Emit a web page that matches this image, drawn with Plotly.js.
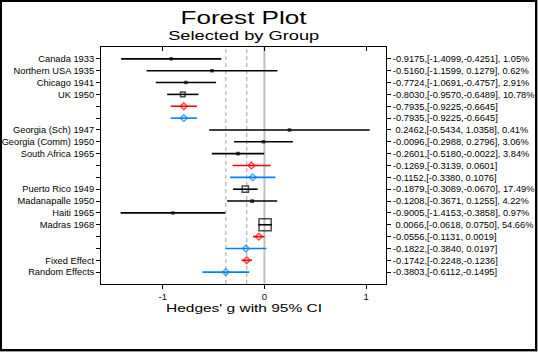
<!DOCTYPE html>
<html>
<head>
<meta charset="utf-8">
<script src="https://cdn.plot.ly/plotly-3.0.1.min.js"></script>
<style>
  html, body { margin: 0; padding: 0; background: #fff; }
  #wrap { position: relative; width: 538px; height: 352px; overflow: hidden; }
  #chart { position: absolute; left: 0; top: 0; width: 538px; height: 352px; }
  #frame { position: absolute; left: 0; top: 0; width: 537px; height: 351px; box-sizing: border-box;
           border: 2px solid #000; pointer-events: none; }
  #frame2 { position: absolute; left: 0; top: 0; width: 538px; height: 352px; box-sizing: border-box;
           border-right: 1px solid #a0a0a0; border-bottom: 1px solid #a0a0a0; pointer-events: none; }
</style>
</head>
<body>
<div id="wrap">
  <div id="chart"></div>
  <div id="frame2"></div>
  <div id="frame"></div>
</div>
<script>
// ---- data ----
const labels = ['Canada 1933', 'Northern USA 1935', 'Chicago 1941', 'UK 1950', '', '',
  'Georgia (Sch) 1947', 'Georgia (Comm) 1950', 'South Africa 1965', '', '',
  'Puerto Rico 1949', 'Madanapalle 1950', 'Haiti 1965', 'Madras 1968', '', '',
  'Fixed Effect', 'Random Effects'];
const kinds = ['study', 'study', 'study', 'study', 'fixed', 'random',
  'study', 'study', 'study', 'fixed', 'random',
  'study', 'study', 'study', 'study', 'fixed', 'random',
  'fixed', 'random'];
const estimates = [-0.9175, -0.5160, -0.7724, -0.8030, -0.7935, -0.7935,
  0.2462, -0.0096, -0.2601, -0.1269, -0.1152,
  -0.1879, -0.1208, -0.9005, 0.0066, -0.0556, -0.1822,
  -0.1742, -0.3803];
const lower = [-1.4099, -1.1599, -1.0691, -0.9570, -0.9225, -0.9225,
  -0.5434, -0.2988, -0.5180, -0.3139, -0.3380,
  -0.3089, -0.3671, -1.4153, -0.0618, -0.1131, -0.3840,
  -0.2248, -0.6112];
const upper = [-0.4251, 0.1279, -0.4757, -0.6489, -0.6645, -0.6645,
  1.0358, 0.2796, -0.0022, 0.0601, 0.1076,
  -0.0670, 0.1255, -0.3858, 0.0750, 0.0019, 0.0197,
  -0.1236, -0.1495];
const weights = [1.05, 0.62, 2.91, 10.78, null, null,
  0.41, 3.06, 3.84, null, null,
  17.49, 4.22, 0.97, 54.66, null, null,
  null, null];
const xTicks = [-1, 0, 1];
const title = 'Forest Plot';
const subtitle = 'Selected by Group';
const xTitle = "Hedges' g with 95% CI";

// ---- build ----
const rows = labels.map((_, i) => i + 1);
const fmt = v => (v >= 0 ? '\u00a0' : '') + v.toFixed(4);
const rightText = estimates.map((e, i) => {
  let s = fmt(e) + ',[' + fmt(lower[i]) + ',' + fmt(upper[i]) + ']';
  if (weights[i] != null) s += ', ' + weights[i].toFixed(2) + '%';
  return s;
});
const fixedOverall = estimates[kinds.lastIndexOf('fixed')];
const randomOverall = estimates[kinds.lastIndexOf('random')];

function makeTrace(kind, color, symbol, sizeFn) {
  const idx = rows.map((r, i) => i).filter(i => kinds[i] === kind);
  return {
    type: 'scatter', mode: 'markers', xaxis: 'x', yaxis: 'y',
    x: idx.map(i => estimates[i]),
    y: idx.map(i => rows[i]),
    error_x: {
      type: 'data', symmetric: false,
      array: idx.map(i => upper[i] - estimates[i]),
      arrayminus: idx.map(i => estimates[i] - lower[i]),
      color: color, thickness: 1.6, width: 0
    },
    marker: {
      symbol: symbol, color: color,
      size: idx.map(i => sizeFn(i)),
      line: { color: color, width: 1.5 }
    },
    hoverinfo: 'skip', showlegend: false
  };
}

const studies = makeTrace('study', '#000000', 'square-open',
  i => Math.max(2, 1.85 * Math.sqrt(weights[i]) - 1.5));
const fixed = makeTrace('fixed', '#ff0000', 'diamond-open', i => 5.2);
const random = makeTrace('random', '#0080ff', 'diamond-open', i => 5.2);
const ghost = {
  type: 'scatter', mode: 'markers', xaxis: 'x2', yaxis: 'y2',
  x: estimates, y: rows, marker: { opacity: 0 }, hoverinfo: 'skip', showlegend: false
};

const fontFam = '"Liberation Sans", Arial, sans-serif';
const vline = (x, dash, color, w) => ({
  type: 'line', xref: 'x', yref: 'paper', x0: x, x1: x, y0: 0, y1: 1,
  line: { color: color, width: w, dash: dash }, layer: 'below'
});

const layout = {
  width: 538, height: 352,
  margin: { l: 101, r: 152, t: 47, b: 68, pad: 0 },
  paper_bgcolor: '#ffffff', plot_bgcolor: '#ffffff',
  font: { family: fontFam, color: '#000', size: 9.3 },
  showlegend: false,
  xaxis: {
    range: [-1.608, 1.196], tickvals: xTicks, ticktext: xTicks.map(String),
    ticks: 'outside', ticklen: 4, tickcolor: '#000', tickwidth: 1,
    showline: true, linecolor: '#000', linewidth: 1, mirror: true,
    showgrid: false, zeroline: false, tickfont: { size: 9.5, color: '#1a001a' }
  },
  xaxis2: {
    overlaying: 'x', matches: 'x', side: 'top', anchor: 'y',
    tickvals: xTicks, ticks: 'inside', ticklen: 4, tickcolor: '#000',
    showticklabels: false, showline: false, showgrid: false, zeroline: false
  },
  yaxis: {
    range: [20, 0], tickvals: rows, ticktext: labels,
    ticks: 'outside', ticklen: 4, tickcolor: '#000',
    showline: true, linecolor: '#000', linewidth: 1, mirror: true,
    showgrid: false, zeroline: false, tickfont: { size: 9.3 }
  },
  yaxis2: {
    overlaying: 'y', matches: 'y', side: 'right', anchor: 'x',
    tickvals: rows, ticktext: rightText,
    ticks: 'outside', ticklen: 4, tickcolor: '#000',
    showline: false, showgrid: false, zeroline: false, tickfont: { size: 9.3 }
  },
  shapes: [
    vline(0, 'solid', '#c0c0c0', 2),
    vline(fixedOverall, '4px,3px', '#b8b8b8', 1.3),
    vline(randomOverall, '4px,3px', '#b8b8b8', 1.3)
  ],
  annotations: [
    { text: title, xref: 'paper', yref: 'paper', x: 0.5, y: 1.124, xanchor: 'center', yanchor: 'middle',
      showarrow: false, font: { size: 18, color: '#000' } },
    { text: subtitle, xref: 'paper', yref: 'paper', x: 0.5, y: 1.047, xanchor: 'center', yanchor: 'middle',
      showarrow: false, font: { size: 12, color: '#000' } },
    { text: xTitle, xref: 'paper', yref: 'paper', x: 0.5, y: -0.101, xanchor: 'center', yanchor: 'middle',
      showarrow: false, font: { size: 11.5, color: '#000' } }
  ]
};

Plotly.newPlot('chart', [ghost, studies, fixed, random], layout, { staticPlot: true }).then(() => {
  const widths = [126, 151, 156];
  document.querySelectorAll('#chart .annotation-text').forEach((t, i) => {
    if (widths[i]) {
      t.setAttribute('textLength', widths[i]);
      t.setAttribute('lengthAdjust', 'spacingAndGlyphs');
    }
  });
});
</script>
</body>
</html>
